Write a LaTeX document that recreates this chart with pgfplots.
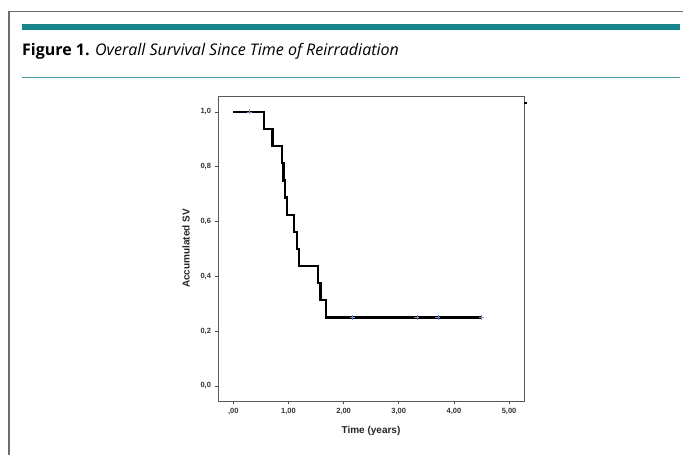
\documentclass[border=0pt]{standalone}
\usepackage{fontspec}
\setmainfont{Liberation Sans}
\newfontfamily\titlefont{Open Sans}
\usepackage{pgfplots}
\pgfplotsset{compat=1.18}
\definecolor{bandteal}{RGB}{22,134,140}
\definecolor{thinteal}{RGB}{70,160,162}
\definecolor{censor}{RGB}{120,140,205}
\definecolor{framegray}{RGB}{110,110,110}

\begin{document}
\begin{tikzpicture}
\useasboundingbox (0,0) rectangle (683pt,455pt);
% page frame and header rules
\draw[framegray, line width=1.3pt] (9pt,0) -- (9pt,443.3pt) -- (683pt,443.3pt);
\fill[bandteal] (22pt,425pt) rectangle (680pt,431pt);
\draw[thinteal, line width=1pt] (22pt,377.5pt) -- (680pt,377.5pt);
\node[anchor=west, inner sep=0pt] at (22pt,404pt)
  {\titlefont\fontsize{16}{18}\selectfont\textbf{Figure 1.} \textit{Overall Survival Since Time of Reirradiation}};

\begin{axis}[
  at={(218pt,54pt)}, anchor=south west,
  scale only axis, width=306pt, height=305pt,
  xmin=-0.277, xmax=5.27, ymin=-0.055, ymax=1.058,
  axis line style={black!65, line width=0.8pt},
  xtick={0,1,2,3,4,5}, xticklabels={{,00},{1,00},{2,00},{3,00},{4,00},{5,00}},
  ytick={0,0.2,0.4,0.6,0.8,1.0}, yticklabels={{0,0},{0,2},{0,4},{0,6},{0,8},{1,0}},
  tick align=outside, xtick pos=bottom, ytick pos=left,
  major tick length=3.5pt,
  tick style={black!70, line width=0.7pt},
  tick label style={font=\fontsize{7.5}{8}\selectfont\bfseries, text=black!80},
  xlabel={Time (years)}, ylabel={Accumulated SV},
  label style={font=\fontsize{10}{12}\selectfont\bfseries, text=black!85},
  xlabel style={yshift=-5pt},
  ylabel style={yshift=4pt},
  clip=false,
]
\addplot[const plot, black, line width=2.2pt, line join=miter] coordinates {
  (0,1) (0.56,0.9375) (0.71,0.875) (0.88,0.8125) (0.91,0.75) (0.94,0.6875)
  (0.97,0.625) (1.105,0.5625) (1.15,0.5) (1.19,0.4375) (1.54,0.375)
  (1.58,0.3125) (1.68,0.25) (4.50,0.25)
};
\addplot[only marks, mark=+, mark size=2.5pt, censor, mark options={line width=0.7pt}] coordinates {
  (0.30,1) (2.16,0.25) (3.33,0.25) (3.71,0.25) (4.50,0.25)
};
\draw[black, line width=2pt] (axis cs:5.275,1.034) -- (axis cs:5.33,1.034);
\end{axis}
\end{tikzpicture}
\end{document}
